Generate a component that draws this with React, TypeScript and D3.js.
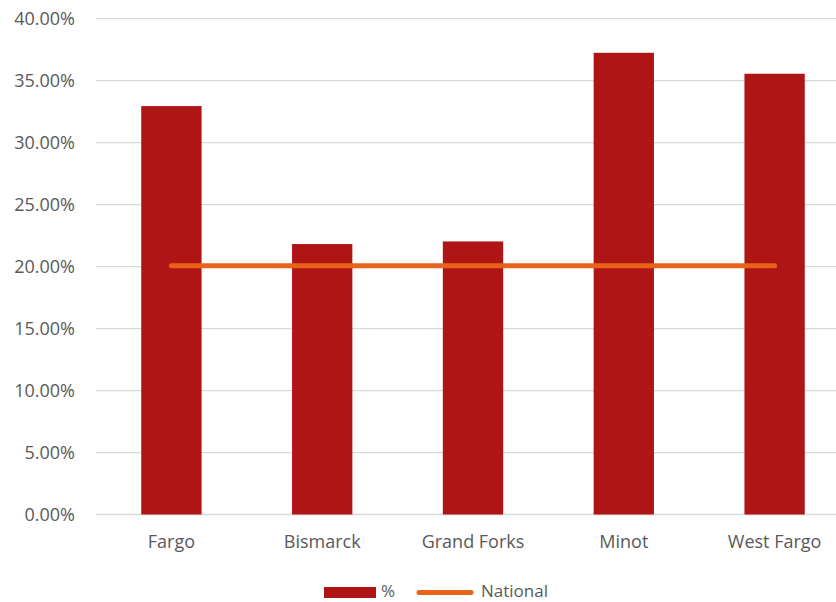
import { useRef, useEffect } from 'react';
import * as d3 from 'd3';

const categories = ['Fargo', 'Bismarck', 'Grand Forks', 'Minot', 'West Fargo'];
const percentValues = [0.3295, 0.2182, 0.2203, 0.3725, 0.3556];
const nationalValues = [0.2007, 0.2007, 0.2007, 0.2007, 0.2007];
const yTicks = [0, 0.05, 0.1, 0.15, 0.2, 0.25, 0.3, 0.35, 0.4];
const legendLabels = ['%', 'National'];

const BAR_COLOR = '#B01515';
const LINE_COLOR = '#E8621A';
const TEXT_COLOR = '#595959';
const GRID_COLOR = '#D9D9D9';
const FONT = '"Open Sans", "Noto Sans", sans-serif';

export default function App() {
  const svgRef = useRef<SVGSVGElement>(null);

  useEffect(() => {
    document.body.style.margin = '0';
    if (!svgRef.current) return;
    const svg = d3.select(svgRef.current);
    svg.selectAll('*').remove();

    const width = 836;
    const height = 602;

    // plot area (right side runs past the visible edge, as in the original)
    const left = 96;
    const right = 850;
    const top = 18.7;
    const bottom = 514.5;

    const x = d3.scaleBand<string>().domain(categories).range([left, right]).padding(0);
    const y = d3.scaleLinear().domain([0, 0.4]).range([bottom, top]);
    const barWidth = x.bandwidth() * 0.4;
    const cx = (c: string) => (x(c) ?? 0) + x.bandwidth() / 2;

    svg.attr('width', width).attr('height', height);

    // gridlines
    svg
      .append('g')
      .selectAll('line')
      .data(yTicks)
      .join('line')
      .attr('x1', left)
      .attr('x2', width)
      .attr('y1', (d) => y(d))
      .attr('y2', (d) => y(d))
      .attr('stroke', GRID_COLOR)
      .attr('stroke-width', 1.3);

    // y tick labels
    svg
      .append('g')
      .selectAll('text')
      .data(yTicks)
      .join('text')
      .attr('x', 75)
      .attr('y', (d) => y(d))
      .attr('dy', '0.36em')
      .attr('text-anchor', 'end')
      .attr('fill', TEXT_COLOR)
      .attr('font-family', FONT)
      .attr('font-size', '18px')
      .text((d) => `${(d * 100).toFixed(2)}%`);

    // bars
    svg
      .append('g')
      .selectAll('rect')
      .data(categories)
      .join('rect')
      .attr('x', (c) => cx(c) - barWidth / 2)
      .attr('width', barWidth)
      .attr('y', (_, i) => y(percentValues[i]))
      .attr('height', (_, i) => bottom - y(percentValues[i]))
      .attr('fill', BAR_COLOR);

    // national line
    const line = d3
      .line<number>()
      .x((_, i) => cx(categories[i]))
      .y((d) => y(d));

    svg
      .append('path')
      .datum(nationalValues)
      .attr('d', line)
      .attr('fill', 'none')
      .attr('stroke', LINE_COLOR)
      .attr('stroke-width', 5)
      .attr('stroke-linecap', 'round');

    // category labels
    svg
      .append('g')
      .selectAll('text')
      .data(categories)
      .join('text')
      .attr('x', (c) => cx(c))
      .attr('y', 548)
      .attr('text-anchor', 'middle')
      .attr('fill', TEXT_COLOR)
      .attr('font-family', FONT)
      .attr('font-size', '18px')
      .text((c) => c);

    // legend
    const legend = svg.append('g');
    legend
      .append('rect')
      .attr('x', 324)
      .attr('y', 587)
      .attr('width', 52)
      .attr('height', 11)
      .attr('fill', BAR_COLOR);
    legend
      .append('text')
      .attr('x', 381)
      .attr('y', 597)
      .attr('fill', TEXT_COLOR)
      .attr('font-family', FONT)
      .attr('font-size', '17px')
      .text(legendLabels[0]);
    legend
      .append('line')
      .attr('x1', 419)
      .attr('x2', 471)
      .attr('y1', 592.5)
      .attr('y2', 592.5)
      .attr('stroke', LINE_COLOR)
      .attr('stroke-width', 5)
      .attr('stroke-linecap', 'round');
    legend
      .append('text')
      .attr('x', 481)
      .attr('y', 597)
      .attr('fill', TEXT_COLOR)
      .attr('font-family', FONT)
      .attr('font-size', '17px')
      .text(legendLabels[1]);
  }, []);

  return <svg ref={svgRef} style={{ display: 'block' }} />;
}
